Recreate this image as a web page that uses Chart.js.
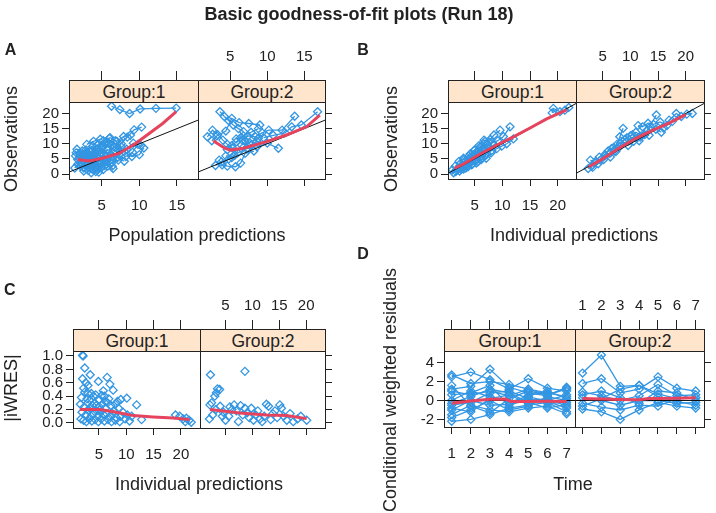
<!DOCTYPE html>
<html>
<head>
<meta charset="utf-8">
<script src="https://cdn.jsdelivr.net/npm/chart.js@4.4.1/dist/chart.umd.min.js"></script>
<style>
body { margin: 0; background: #fff; }
#page { position: relative; width: 716px; height: 513px; overflow: hidden; font-family: "Liberation Sans", Arial, sans-serif; color: #222; }
canvas { position: absolute; left: 0; top: 0; }
.txt { position: absolute; white-space: nowrap; line-height: 1; transform: translate(-50%, -50%); font-size: 18px; }
.rot { transform: translate(-50%, -50%) rotate(-90deg); }
.bold { font-weight: bold; }
.strip { position: absolute; box-sizing: border-box; border: 1px solid #222; background: #ffe5cc; text-align: center; font-size: 17.5px; line-height: 22px; }
</style>
</head>
<body>
<div id="page">
  <canvas id="a1" width="716" height="513"></canvas>
  <canvas id="a2" width="716" height="513"></canvas>
  <canvas id="b1" width="716" height="513"></canvas>
  <canvas id="b2" width="716" height="513"></canvas>
  <canvas id="c1" width="716" height="513"></canvas>
  <canvas id="c2" width="716" height="513"></canvas>
  <canvas id="d1" width="716" height="513"></canvas>
  <canvas id="d2" width="716" height="513"></canvas>
</div>
<script>
// ---- data ----
var groups = ['Group:1', 'Group:2'];

// A: population predictions vs observations, one list per subject
var popObsG1 = [
  [[1.6,7.0],[2.2,5.5],[3.0,4.2],[3.8,3.0],[4.5,2.2],[5.2,1.5]],
  [[1.8,3.2],[2.6,2.0],[3.2,1.2],[3.6,0.4],[4.2,0.8]],
  [[2.0,6.8],[2.9,8.0],[3.8,9.2],[4.6,7.5],[5.5,6.0],[6.4,4.8]],
  [[2.4,4.5],[3.3,5.8],[4.1,7.0],[5.0,8.6],[5.9,10.2],[6.8,11.0],[7.6,9.0]],
  [[1.4,2.0],[2.1,3.6],[2.8,5.0],[3.4,6.2],[4.0,4.0],[4.7,3.2]],
  [[3.0,9.8],[3.9,10.8],[4.8,11.5],[5.7,10.5],[6.6,9.2],[7.4,7.6]],
  [[2.6,1.0],[3.5,2.5],[4.4,3.8],[5.3,5.2],[6.2,6.6],[7.1,5.4],[8.0,4.2]],
  [[4.0,6.0],[4.9,6.8],[5.8,7.8],[6.7,8.8],[7.6,10.0],[8.4,12.2],[9.3,14.6],[10.3,15.5]],
  [[3.2,3.5],[4.1,4.6],[5.0,3.8],[5.8,2.6],[6.5,1.8]],
  [[5.0,9.0],[6.0,10.0],[7.0,8.6],[8.0,7.4],[9.0,5.8],[10.0,6.4],[10.6,8.6]],
  [[2.0,5.2],[2.7,6.0],[3.5,7.4],[4.3,8.2],[5.1,9.4],[6.0,11.8]],
  [[4.5,1.5],[5.4,2.8],[6.3,3.6],[7.2,4.6],[8.2,5.8],[9.1,7.2],[9.8,9.8]],
  [[1.7,8.2],[2.4,7.6],[3.1,6.8],[3.9,6.0],[4.6,5.4]],
  [[5.5,4.0],[6.4,5.6],[7.3,6.4],[8.3,8.2],[9.2,10.2],[10.2,9.4]],
  [[3.6,7.8],[4.4,9.6],[5.2,11.0],[6.1,12.0],[7.0,10.8],[7.9,12.4],[8.8,12.8]],
  [[2.2,2.6],[3.0,3.2],[3.8,1.6],[4.6,0.6]],
  [[1.8,4.8],[2.5,4.2],[3.2,3.8],[4.0,4.4],[4.8,3.4],[5.6,4.6]],
  [[2.3,3.8],[3.1,4.8],[3.9,5.4],[4.7,6.2],[5.5,5.6],[6.3,6.0]],
  [[1.5,6.0],[2.2,6.4],[2.9,7.2],[3.6,4.6],[4.3,5.8],[5.0,7.0],[5.8,8.2]],
  [[2.7,2.2],[3.4,2.8],[4.2,2.4],[4.9,2.0],[5.6,3.2],[6.4,2.6]],
  [[6.3,22.4],[7.4,21.3],[8.7,20.0],[10.1,21.5],[12.2,21.7],[14.9,21.8]]
];
var popObsG2 = [
  [[1.9,12.3],[2.6,14.5],[3.3,13.0],[4.0,11.2],[4.6,9.8],[5.3,8.6]],
  [[3.6,20.6],[4.2,19.0],[4.8,17.6],[5.4,16.2],[6.1,15.0],[6.8,14.0]],
  [[2.5,11.0],[3.2,12.6],[4.4,14.2],[5.2,18.4],[6.2,17.0],[7.5,16.7],[9.0,16.2]],
  [[6.6,11.2],[7.4,12.6],[8.4,12.3],[9.3,13.6],[10.2,14.5],[12.0,14.5],[13.7,19.1]],
  [[3.5,4.6],[3.9,3.0],[4.6,2.6],[5.7,2.4],[6.4,3.6],[7.0,6.8],[8.2,7.6]],
  [[4.4,6.0],[5.2,5.4],[6.0,7.0],[7.2,8.4],[8.6,9.0],[10.0,10.2],[11.5,8.5]],
  [[3.0,2.8],[3.8,4.0],[4.8,5.0],[5.6,6.2],[6.5,9.6],[7.6,10.4],[8.8,11.8]],
  [[9.5,12.0],[10.8,12.8],[12.4,13.6],[13.3,15.6],[14.6,16.2],[16.8,20.6]],
  [[5.8,11.6],[6.4,12.0],[7.0,11.0],[7.8,9.6],[8.6,10.8]],
  [[4.6,8.0],[5.2,9.4],[5.8,10.6],[6.8,12.6],[7.8,13.8],[8.8,15.0]]
];
var popSmoothG1 = [[1.8,4.8],[3.3,4.3],[5.1,5.2],[7.3,6.8],[9.5,10.1],[11.3,13.4],[13.1,16.7],[14.9,20.6]];
var popSmoothG2 = [[2.7,11.0],[4.2,8.6],[5.0,7.9],[6.8,8.5],[9.9,10.7],[12.6,12.9],[15.3,15.6],[17.1,19.5]];

// B: individual predictions vs observations
var indObsG1 = [
  [[1.2,0.4],[2.0,1.8],[2.8,2.2],[3.6,3.4],[4.5,4.6],[5.4,5.0],[6.2,6.8]],
  [[1.5,2.6],[2.4,3.4],[3.2,4.2],[4.1,5.4],[5.0,6.4],[5.9,7.2],[6.8,8.6]],
  [[1.8,1.2],[2.6,2.8],[3.5,2.6],[4.3,3.8],[5.2,4.2],[6.0,5.6],[7.0,6.2]],
  [[2.2,4.2],[3.1,4.8],[4.0,6.0],[4.9,7.8],[5.8,9.4],[6.7,11.2],[7.6,10.6]],
  [[2.5,1.6],[3.4,2.0],[4.4,3.0],[5.3,3.6],[6.2,4.8],[7.1,5.2],[8.0,7.0]],
  [[3.0,5.2],[3.9,4.4],[4.8,5.6],[5.7,6.2],[6.6,7.8],[7.5,8.4],[8.5,9.6]],
  [[4.2,6.6],[5.1,8.0],[6.0,9.0],[6.9,10.8],[7.8,11.4],[8.5,12.9],[9.6,14.5]],
  [[5.5,7.0],[6.4,8.4],[7.3,9.8],[8.2,10.4],[9.2,11.0],[10.2,12.4],[11.4,15.6]],
  [[1.0,1.4],[1.6,0.8],[2.3,1.0],[3.0,1.6],[3.8,2.4],[4.6,3.2],[5.6,4.0]],
  [[6.5,5.4],[7.2,6.6],[8.1,7.8],[9.0,8.4],[9.9,9.2],[10.8,10.0],[12.0,11.6]],
  [[19.0,20.2],[19.2,21.7],[20.4,20.6],[21.3,21.1],[22.0,22.0]]
];
var indObsG2 = [
  [[2.4,1.8],[3.0,2.6],[3.8,4.2],[4.6,4.6],[5.5,6.2],[6.4,5.6],[7.4,7.4]],
  [[2.8,4.6],[3.6,3.8],[4.4,5.6],[5.4,6.4],[6.6,8.4],[7.6,9.8],[8.7,15.1]],
  [[3.2,2.2],[4.2,3.4],[5.2,4.8],[6.2,6.8],[7.2,7.6],[8.2,9.2],[9.2,10.6]],
  [[8.1,12.3],[9.0,11.4],[10.0,12.6],[11.0,13.8],[12.0,12.6],[13.0,14.2],[14.7,19.5]],
  [[9.6,9.4],[10.6,10.8],[11.6,11.0],[12.6,13.0],[13.6,15.6],[14.6,14.8],[15.6,13.8]],
  [[11.4,16.0],[12.2,15.6],[13.2,16.8],[14.2,16.4],[15.4,17.2],[16.6,16.0],[17.6,17.4]],
  [[6.0,7.6],[7.0,8.8],[8.2,10.2],[9.4,12.0],[10.4,13.0],[11.8,12.2],[13.4,12.8]],
  [[16.0,15.2],[17.0,17.8],[18.3,20.0],[19.2,19.0],[20.2,19.8],[21.2,20.0]]
];
var indSmoothG1 = [[1.4,1.9],[3,3.3],[6,6.6],[9,9.6],[12,12.3],[15,15.2],[18,18.2],[21.6,21.2]];
var indSmoothG2 = [[2.5,2.3],[5,5.0],[8,8.6],[11,11.8],[14,14.4],[17,16.8],[20,19.6]];

// C: individual predictions vs |iWRES|
var iwresG1 = [
  [2.0,1.01],[2.1,1.0],[2.4,0.82],[3.4,0.72],[2.0,0.66],[6.5,0.68],[4.9,0.62],[2.6,0.6],[3.0,0.56],[7.0,0.58],
  [7.6,0.49],[2.2,0.52],[3.6,0.44],[4.4,0.42],[5.5,0.41],[6.0,0.40],[10.1,0.37],[9.0,0.35],[8.4,0.32],[11.9,0.27],
  [1.8,0.38],[2.8,0.36],[5.0,0.34],[6.8,0.36],[8.0,0.28],[1.6,0.28],[2.3,0.24],[2.9,0.30],[3.3,0.22],[3.8,0.26],
  [4.2,0.30],[4.6,0.18],[5.1,0.24],[5.6,0.28],[6.2,0.22],[6.6,0.30],[7.2,0.26],[7.8,0.18],[8.6,0.22],[9.4,0.16],
  [10.2,0.12],[1.9,0.16],[2.6,0.12],[3.1,0.18],[3.6,0.10],[4.0,0.14],[4.8,0.10],[5.3,0.16],[5.9,0.12],[6.4,0.14],
  [7.0,0.10],[7.5,0.14],[8.2,0.08],[9.0,0.10],[9.8,0.06],[11.0,0.10],[1.7,0.06],[2.2,0.04],[2.7,0.02],[3.2,0.06],
  [3.7,0.03],[4.3,0.05],[4.9,0.02],[5.4,0.06],[6.0,0.03],[6.7,0.05],[7.3,0.02],[8.0,0.04],[8.8,0.02],[10.6,0.03],
  [12.8,0.05],[19.0,0.12],[19.8,0.10],[20.4,0.06],[21.0,0.07],[21.5,0.04],[21.9,0.01],[20.8,0.02],[3.0,0.44],[4.0,0.40],
  [5.8,0.48],[2.4,0.46],[6.2,0.32],[4.5,0.26],[3.4,0.34],[5.2,0.20]
];
var iwresG2 = [
  [2.2,0.72],[8.6,0.77],[3.3,0.45],[3.5,0.51],[3.9,0.50],[3.0,0.40],[2.1,0.27],[2.4,0.30],[2.0,0.06],[2.6,0.12],
  [3.2,0.20],[4.0,0.25],[4.6,0.16],[5.0,0.04],[5.6,0.10],[6.2,0.20],[6.6,0.27],[7.0,0.18],[7.4,0.02],[7.8,0.26],
  [8.2,0.12],[8.6,0.22],[9.0,0.15],[9.4,0.08],[9.8,0.22],[10.2,0.04],[10.6,0.12],[11.0,0.18],[11.4,0.06],[11.8,0.02],
  [12.2,0.10],[12.6,0.28],[13.0,0.25],[13.4,0.05],[13.8,0.14],[14.2,0.18],[14.6,0.08],[15.1,0.27],[15.4,0.22],[15.8,0.10],
  [16.4,0.04],[17.0,0.14],[17.6,0.02],[18.4,0.06],[19.0,0.10],[20.1,0.04],[4.4,0.10],[5.8,0.24]
];
var iwresSmoothG1 = [[1.5,0.20],[5.2,0.20],[8.2,0.16],[11.3,0.11],[14.9,0.09],[18.6,0.075],[21.6,0.05]];
var iwresSmoothG2 = [[2.1,0.20],[7.7,0.15],[12.6,0.12],[16.3,0.11],[20.1,0.065]];

// D: CWRES by time, one row per subject
var times = [1, 2, 3, 4, 5, 6, 7];
var cwresG1 = [
  [2.7, 1.8, 2.0, 1.7, 1.2, 0.6, 1.3],
  [2.5, 3.0, 2.2, 1.2, 2.3, 1.3, 1.0],
  [1.2, 1.5, 3.3, 1.4, 0.8, 0.5, 1.4],
  [1.0, 0.6, 1.0, 0.5, 1.2, 0.8, 0.4],
  [0.0, 1.0, 0.4, -0.2, 0.5, 1.0, 0.2],
  [-0.5, -0.2, 0.8, 1.0, 0.2, -0.3, -0.2],
  [-1.0, 0.0, -0.5, -0.4, 0.0, 0.2, -0.6],
  [-1.5, -0.5, -1.0, -1.2, -0.8, -0.6, -1.4],
  [-2.2, -2.0, -1.5, -0.8, -0.5, -0.2, -1.2],
  [-0.8, -1.2, 0.2, 0.6, -0.3, 0.0, 0.6],
  [0.6, 0.8, 1.6, -0.6, 0.4, -0.1, -0.8],
  [-1.8, -1.0, 0.0, -1.0, -0.6, 0.4, 0.0],
  [1.6, -0.6, -1.3, 0.2, 1.0, 0.6, 1.2],
  [-0.3, 0.4, 1.2, 0.8, -0.2, -0.8, -0.4]
];
var cwresG2 = [
  [2.9, 4.8, 1.5, 1.6, 0.7, 0.2, 0.3],
  [1.8, 2.3, 0.8, 1.2, 2.5, 1.3, 1.0],
  [0.9, 0.5, 0.0, 0.5, 1.7, 0.5, 0.6],
  [0.3, 0.0, -0.5, 0.0, 0.0, -0.3, -0.2],
  [-0.3, -0.7, -1.0, -0.5, -0.6, 0.2, 0.3],
  [-0.9, -1.2, -2.0, -1.0, -0.2, -0.6, -0.8],
  [0.6, 1.0, 0.3, -0.3, 1.0, 0.8, 0.0],
  [-0.6, 0.2, 1.2, 1.6, 0.4, -0.1, -0.5]
];
var cwresSmoothG1 = [[1,-0.3],[2,-0.05],[3,0.12],[3.8,0.15],[4.1,-0.1],[5,-0.1],[6,-0.08],[7,-0.1]];
var cwresSmoothG2 = [[1,0.2],[2,0.15],[3,0.1],[4,0.08],[4.5,0.2],[5,0.2],[6,0.25],[7,0.3]];

// tick labels
var obsTicks = [0, 5, 10, 15, 20];
var popTicks = [5, 10, 15];
var ipredTicks = [5, 10, 15, 20];
var iwresTicks = [0, 0.2, 0.4, 0.6, 0.8, 1.0];
var cwresTicks = [-2, 0, 2, 4];

// ---- drawing ----
var W = 716, H = 513;
var blue = '#3396e2';
var red = '#e6445e';
var ink = '#222';
var stripH = 22;
var tickFont = { family: 'Liberation Sans', size: 15 };

function xy(p) { return { x: p[0], y: p[1] }; }

function pointSet(data, withLine) {
    return {
        data: data,
        showLine: withLine,
        borderColor: blue,
        borderWidth: 1.3,
        pointStyle: 'rectRot',
        pointRadius: 4,
        pointBorderColor: blue,
        pointBackgroundColor: 'rgba(0,0,0,0)',
        pointBorderWidth: 1.3,
        order: 2
    };
}

function subjectSets(subjects) {
    return subjects.map(function(s) { return pointSet(s.map(xy), true); });
}

function smoothSet(pts) {
    return { data: pts.map(xy), showLine: true, borderColor: red, borderWidth: 3, pointRadius: 0, order: 0 };
}

function refSet(pts) {
    return { data: pts.map(xy), showLine: true, borderColor: '#111', borderWidth: 1, pointRadius: 0, order: 1 };
}

var framePlugin = {
    id: 'frame',
    afterDraw: function(chart) {
        var a = chart.chartArea, c = chart.ctx;
        c.save();
        c.strokeStyle = ink;
        c.lineWidth = 1;
        c.strokeRect(a.left + 0.5, a.top + 0.5, a.right - a.left, a.bottom - a.top);
        c.restore();
    }
};

function fixedTicks(vals) {
    return function(scale) { scale.ticks = vals.map(function(v) { return { value: v }; }); };
}

// size = thickness of the axis box, so the plot area lands where the reference has it
function axis(pos, range, vals, size, tickLen, showLabels, pad, fmt) {
    var vertical = pos === 'left' || pos === 'right';
    return {
        type: 'linear',
        position: pos,
        min: range[0],
        max: range[1],
        afterBuildTicks: fixedTicks(vals),
        afterFit: function(s) { if (vertical) s.width = size; else s.height = size; },
        grid: { drawOnChartArea: false, drawTicks: true, tickLength: tickLen, color: ink, lineWidth: 1 },
        border: { display: false },
        ticks: {
            display: showLabels, padding: pad, font: tickFont, color: ink,
            maxRotation: 0, autoSkip: false,
            callback: fmt || function(v) { return String(v); }
        }
    };
}

// box = [left, top, right, bottom] of the plotting region
function drawGroup(id, box, xr, yr, xt, yt, first, datasets, yFmt) {
    var pad = first ? { left: 0, top: 0, right: W - box[2], bottom: 0 }
                    : { left: box[0], top: 0, right: 0, bottom: 0 };
    var ySide = first ? box[0] : W - box[2];
    new Chart(document.getElementById(id), {
        type: 'scatter',
        data: { datasets: datasets },
        plugins: [framePlugin],
        options: {
            responsive: false,
            animation: false,
            events: [],
            layout: { padding: pad },
            plugins: { legend: { display: false }, tooltip: { enabled: false } },
            scales: {
                x: axis('bottom', xr, xt, H - box[3], 7, first, 11),
                x2: axis('top', xr, xt, box[1], stripH + 9, !first, 5),
                y: axis(first ? 'left' : 'right', yr, yt, ySide, 7, first, 3, yFmt)
            }
        }
    });

    // strip with the group name, laid over the upper tick marks
    var s = document.createElement('div');
    s.className = 'strip';
    s.style.left = box[0] + 'px';
    s.style.top = (box[1] - stripH) + 'px';
    s.style.width = (box[2] - box[0] + 1) + 'px';
    s.style.height = (stripH + 1) + 'px';
    s.textContent = first ? groups[0] : groups[1];
    document.getElementById('page').appendChild(s);
}

function label(text, cx, cy, cls, size) {
    var d = document.createElement('div');
    d.className = 'txt ' + (cls || '');
    d.style.left = cx + 'px';
    d.style.top = cy + 'px';
    if (size) d.style.fontSize = size + 'px';
    d.textContent = text;
    document.getElementById('page').appendChild(d);
}

var dOne = function(v) { return v.toFixed(1); };
var popRange = [0.64, 17.8], obsRange = [-1.65, 23.8];
var ipredRange = [0.2, 23.3];
var iwresX = [0.25, 23.5], iwresY = [-0.075, 1.074];
var timeRange = [0.6, 7.44], cwresY = [-2.8, 5.23];
var identity = [[0, 0], [24, 24]];
var zeroLine = [[0, 0], [8, 0]];

window.onload = function() {
    // A
    drawGroup('a1', [69, 102, 198, 179], popRange, obsRange, popTicks, obsTicks, true,
        [smoothSet(popSmoothG1), refSet(identity)].concat(subjectSets(popObsG1)));
    drawGroup('a2', [198, 102, 325, 179], popRange, obsRange, popTicks, obsTicks, false,
        [smoothSet(popSmoothG2), refSet(identity)].concat(subjectSets(popObsG2)));
    // B
    drawGroup('b1', [448, 102, 576, 179], ipredRange, obsRange, ipredTicks, obsTicks, true,
        [smoothSet(indSmoothG1), refSet(identity)].concat(subjectSets(indObsG1)));
    drawGroup('b2', [576, 102, 704, 179], ipredRange, obsRange, ipredTicks, obsTicks, false,
        [smoothSet(indSmoothG2), refSet(identity)].concat(subjectSets(indObsG2)));
    // C
    drawGroup('c1', [73, 351, 200, 428], iwresX, iwresY, ipredTicks, iwresTicks, true,
        [smoothSet(iwresSmoothG1), pointSet(iwresG1.map(xy), false)], dOne);
    drawGroup('c2', [200, 351, 325, 428], iwresX, iwresY, ipredTicks, iwresTicks, false,
        [smoothSet(iwresSmoothG2), pointSet(iwresG2.map(xy), false)], dOne);
    // D
    var bySubject = function(rows) {
        return rows.map(function(r) { return pointSet(r.map(function(v, i) { return { x: times[i], y: v }; }), true); });
    };
    drawGroup('d1', [444, 351, 575, 427], timeRange, cwresY, times, cwresTicks, true,
        [smoothSet(cwresSmoothG1), refSet(zeroLine)].concat(bySubject(cwresG1)));
    drawGroup('d2', [575, 351, 704, 427], timeRange, cwresY, times, cwresTicks, false,
        [smoothSet(cwresSmoothG2), refSet(zeroLine)].concat(bySubject(cwresG2)));

    // titles and labels
    label('Basic goodness-of-fit plots (Run 18)', 359, 14, 'bold');
    label('A', 10.5, 49.5, 'bold', 16);
    label('B', 363, 50, 'bold', 16);
    label('C', 9.7, 290, 'bold', 16);
    label('D', 363, 253.5, 'bold', 16);
    label('Observations', 11, 139, 'rot');
    label('Population predictions', 197, 234.7);
    label('Observations', 391, 139, 'rot');
    label('Individual predictions', 574, 234.7);
    label('|iWRES|', 11, 388, 'rot');
    label('Individual predictions', 199, 484);
    label('Conditional weighted residuals', 390, 390, 'rot');
    label('Time', 573, 483.5);
};
</script>
</body>
</html>
